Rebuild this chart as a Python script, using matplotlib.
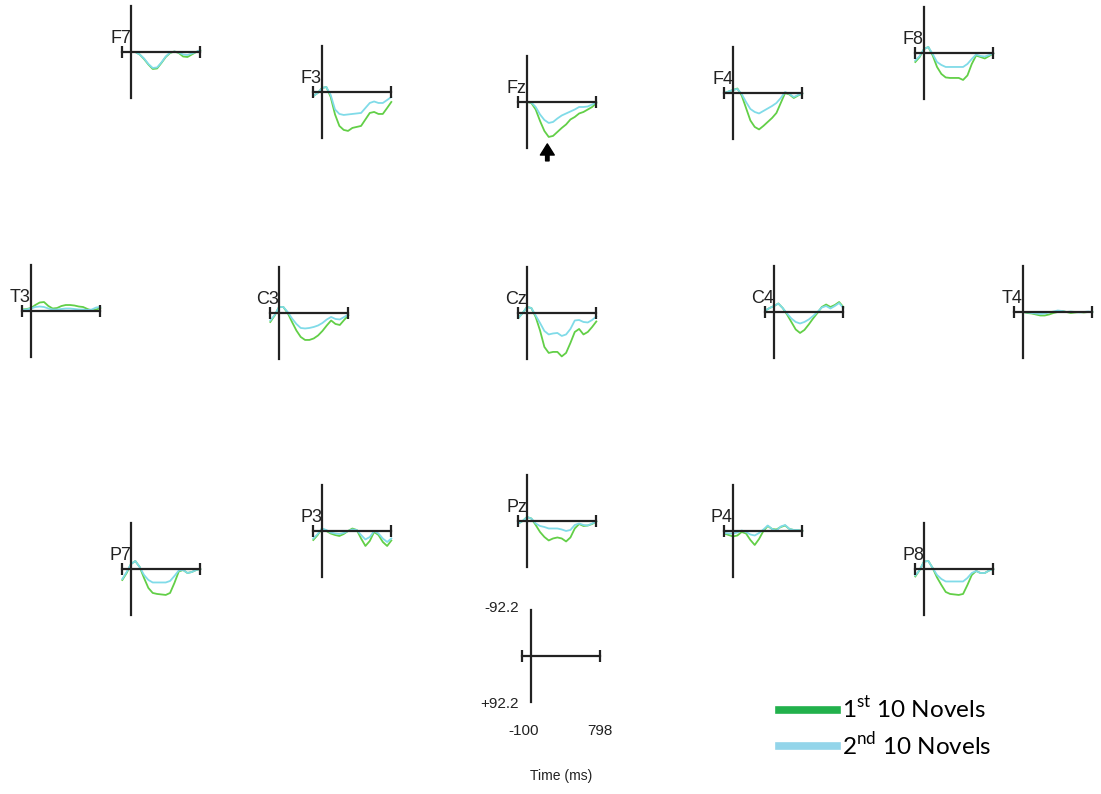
import matplotlib
matplotlib.use('Agg')
import matplotlib.pyplot as plt
from matplotlib.lines import Line2D

plt.rcParams['font.family'] = ['Liberation Sans', 'DejaVu Sans']
plt.rcParams['mathtext.fontset'] = 'custom'
plt.rcParams['mathtext.rm'] = 'Lato'

# time axis of every ERP trace (ms)
times = [-100, -50, 0, 50, 100, 150, 200, 250, 300, 350, 400, 450, 500, 550, 600, 650, 700, 750, 798]

# amplitudes (uV), negative up; first = 1st 10 novels, second = 2nd 10 novels
f7_first = [0, 0, 0, 0, 5, 14, 25, 34, 33, 22, 10, 2, -1, 2, 9, 10, 5, 0, -3]
f7_second = [0, 0, 0, 0, 5, 13, 24, 32, 31, 21, 9, 1, -1, 1, 5, 6, 3, 0, -4]
f3_first = [8, 2, -8, -10, 10, 45, 68, 76, 78, 72, 70, 68, 55, 42, 40, 44, 44, 32, 20]
f3_second = [8, 2, -8, -10, 6, 35, 44, 46, 45, 44, 43, 42, 32, 22, 19, 22, 22, 16, 10]
fz_first = [0, 0, 0, 2, 15, 38, 58, 70, 68, 60, 52, 45, 35, 30, 23, 20, 15, 10, 2]
fz_second = [0, 0, 0, 1, 10, 25, 36, 42, 40, 33, 27, 23, 19, 15, 10, 10, 9, 5, 1]
f4_first = [0, -3, -6, -9, 5, 30, 55, 68, 73, 66, 58, 50, 40, 20, 0, 3, 10, 5, 1]
f4_second = [0, -3, -6, -8, 2, 18, 32, 38, 41, 36, 31, 26, 20, 10, -2, 2, 8, 4, 1]
f8_first = [18, 8, -8, -12, 5, 28, 42, 49, 50, 50, 50, 54, 45, 22, 5, 8, 11, 6, 1]
f8_second = [15, 6, -8, -12, 2, 18, 24, 28, 28, 28, 28, 28, 22, 12, 3, 6, 7, 4, 1]
t3_first = [-3, -4, -6, -12, -17, -18, -10, -5, -6, -10, -12, -12, -11, -9, -8, -4, -1, -3, -6]
t3_second = [-2, -3, -5, -8, -9, -8, -5, -3, -3, -4, -5, -5, -4, -3, -3, -2, -3, -7, -8]
c3_first = [18, 5, -12, -12, 0, 18, 35, 48, 54, 54, 51, 45, 36, 25, 15, 22, 24, 14, 5]
c3_second = [15, 4, -12, -12, -2, 11, 22, 30, 31, 30, 28, 25, 20, 13, 8, 12, 13, 8, 3]
cz_first = [10, 0, -12, -10, 8, 35, 68, 80, 78, 78, 87, 80, 60, 38, 32, 43, 38, 28, 17]
cz_second = [10, 0, -12, -10, 5, 20, 36, 43, 41, 40, 46, 43, 32, 15, 14, 18, 19, 14, 7]
c4_first = [-3, -8, -12, -17, -8, 5, 20, 35, 42, 36, 25, 13, 2, -10, -15, -10, -14, -20, -10]
c4_second = [-3, -8, -12, -17, -8, 3, 13, 20, 23, 20, 15, 8, 0, -9, -12, -7, -12, -18, -8]
t4_first = [0, 0, 0, 2, 3, 5, 7, 7, 5, 2, 0, -2, 0, 2, 1, 0, 1, 0, 0]
t4_second = [0, 0, 0, 1, 2, 3, 4, 3, 1, -1, -3, -2, 0, -1, 0, 1, 0, -1, 0]
p7_first = [22, 8, -10, -16, -4, 18, 38, 48, 50, 51, 52, 48, 28, 5, 2, 8, 6, 2, 0]
p7_second = [20, 6, -10, -16, -4, 12, 22, 27, 27, 27, 27, 24, 14, 3, 2, 8, 6, 2, 0]
p3_first = [18, 8, -5, 0, 5, 8, 10, 6, 0, -5, -2, 15, 30, 20, 2, 8, 22, 30, 19]
p3_second = [15, 6, -5, -2, 3, 5, 6, 4, 0, -3, -2, 8, 17, 12, 0, 5, 15, 22, 15]
pz_first = [5, 0, -8, -5, 8, 22, 32, 39, 35, 33, 35, 41, 33, 15, 6, 10, 9, 6, 1]
pz_second = [5, 0, -8, -5, 5, 10, 12, 15, 15, 15, 17, 20, 18, 8, 5, 8, 9, 5, 1]
p4_first = [5, 8, 11, 9, 2, 5, 18, 28, 16, 0, -10, -4, -3, -8, -11, -4, -2, -2, 0]
p4_second = [4, 5, 5, 3, -1, 2, 7, 9, 4, -3, -11, -4, -1, -9, -12, -4, -2, -2, 0]
p8_first = [15, 2, -15, -16, -2, 17, 32, 46, 50, 51, 52, 50, 32, 12, 4, 8, 8, 3, 0]
p8_second = [13, 2, -15, -16, -2, 12, 20, 25, 25, 25, 25, 25, 18, 8, 4, 8, 8, 3, 0]

electrodes = ['F7', 'F3', 'Fz', 'F4', 'F8', 'T3', 'C3', 'Cz', 'C4', 'T4', 'P7', 'P3', 'Pz', 'P4', 'P8']
first_novels = [f7_first, f3_first, fz_first, f4_first, f8_first, t3_first, c3_first, cz_first,
                c4_first, t4_first, p7_first, p3_first, pz_first, p4_first, p8_first]
second_novels = [f7_second, f3_second, fz_second, f4_second, f8_second, t3_second, c3_second, cz_second,
                 c4_second, t4_second, p7_second, p3_second, pz_second, p4_second, p8_second]

amp_limit = 92.2
t_min, t_max = -100, 798

# pixel position of each panel origin (t=0 line x, baseline y)
origin_x = [131, 322, 527, 733, 924, 31, 279, 527, 774, 1023, 131, 322, 527, 733, 924]
origin_y = [52, 92, 102, 93, 53, 311, 313, 313, 312, 312, 569, 531, 521, 531, 569]

W, H = 1101, 794
green = '#62cf47'
cyan = '#80dbe8'

fig = plt.figure(figsize=(W / 100, H / 100), dpi=100)


def panel(vx, hy):
    span_px = 78
    left = vx - span_px * (0 - t_min) / (t_max - t_min)
    ax = fig.add_axes([left / W, 1 - (hy + 46) / H, span_px / W, 92 / H])
    ax.set_xlim(t_min, t_max)
    ax.set_ylim(amp_limit, -amp_limit)
    ax.axis('off')
    ax.plot([t_min, t_max], [0, 0], color='#222222', lw=1.6, marker='|', ms=9, mew=1.6,
            clip_on=False, zorder=3)
    ax.plot([0, 0], [-amp_limit, amp_limit], color='#222222', lw=1.6, clip_on=False, zorder=3)
    return ax


for name, a1, a2, vx, hy in zip(electrodes, first_novels, second_novels, origin_x, origin_y):
    ax = panel(vx, hy)
    ax.plot(times, a1, color=green, lw=1.3, clip_on=False, zorder=2)
    ax.plot(times, a2, color=cyan, lw=1.3, clip_on=False, zorder=2)
    ax.text(0, -10, name, ha='right', va='bottom', fontsize=13, color='#222222')
    if name == 'Fz':
        ax.annotate('', xy=(234, 84), xytext=(234, 118),
                    arrowprops=dict(facecolor='black', edgecolor='black', width=2.5,
                                    headwidth=10, headlength=8, shrink=0),
                    annotation_clip=False)

# scale panel
ax = panel(531, 656)
ax.text(-140, -amp_limit - 4, '-92.2', ha='right', va='center', fontsize=11, color='#222222')
ax.text(-140, amp_limit + 4, '+92.2', ha='right', va='center', fontsize=11, color='#222222')
ax.text(t_min + 10, 150, '-100', ha='center', va='center', fontsize=11, color='#222222')
ax.text(t_max, 150, '798', ha='center', va='center', fontsize=11, color='#222222')
ax.text(350, 240, 'Time (ms)', ha='center', va='center', fontsize=10, color='#222222')

handles = [Line2D([], [], color='#22b14c', lw=5.5), Line2D([], [], color='#93d5ea', lw=5.5)]
labels = ['1$^{\\mathrm{st}}$ 10 Novels', '2$^{\\mathrm{nd}}$ 10 Novels']
fig.legend(handles, labels, loc='upper left', bbox_to_anchor=(769 / W, 1 - 686 / H),
           frameon=False, handlelength=2.4, handletextpad=0.2, borderaxespad=0,
           labelspacing=0.35, prop={'family': 'Lato', 'size': 17.5})

fig.savefig('out.png', dpi=100)
